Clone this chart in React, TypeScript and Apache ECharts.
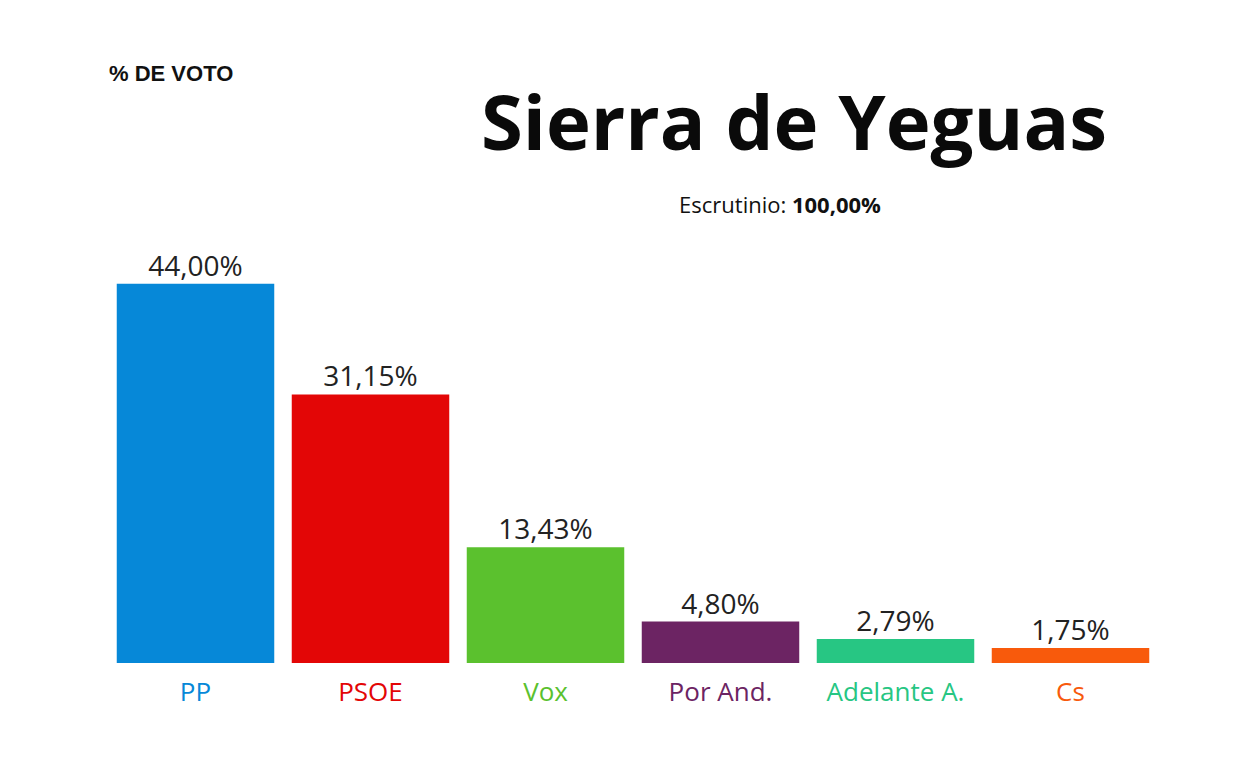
import React, { useEffect, useRef } from "react";
import * as echarts from "echarts";

const parties = ["PP", "PSOE", "Vox", "Por And.", "Adelante A.", "Cs"];
const votes = [44.0, 31.15, 13.43, 4.8, 2.79, 1.75];
const colors = ["#0688d8", "#e30606", "#5bc12e", "#6c2463", "#27c683", "#f85a0c"];
const titleText = "Sierra de Yeguas";
const scrutiny = "100,00%";

const FONT = "'Open Sans', 'Noto Sans', sans-serif";

export default function App() {
  const ref = useRef<HTMLDivElement>(null);
  useEffect(() => {
    const chart = echarts.init(ref.current!, null, { renderer: "svg" });
    chart.setOption({
      animation: false,
      backgroundColor: "#ffffff",
      grid: { left: 100, right: 82, top: 224, bottom: 99 },
      graphic: [
        {
          type: "text",
          left: 101,
          top: 54,
          style: { text: "% DE VOTO", font: "bold 22px 'Liberation Sans', Arial, sans-serif", fill: "#111" },
        },
        {
          type: "text",
          x: 786,
          y: 112,
          style: {
            text: titleText,
            font: `bold 76px ${FONT}`,
            fill: "#0a0a0a",
            align: "center",
            verticalAlign: "middle",
          },
        },
        {
          type: "text",
          x: 772,
          y: 196,
          style: {
            rich: {
              a: { font: `22px ${FONT}`, fill: "#111" },
              b: { font: `bold 22px ${FONT}`, fill: "#111" },
            },
            text: `{a|Escrutinio: }{b|${scrutiny}}`,
            align: "center",
            verticalAlign: "middle",
          },
        },
      ],
      xAxis: {
        type: "category",
        data: parties.map((p, i) => ({ value: p, textStyle: { color: colors[i] } })),
        axisLine: { show: false },
        axisTick: { show: false },
        axisLabel: {
          interval: 0,
          hideOverlap: false,
          margin: 15,
          fontSize: 26,
          fontFamily: FONT,
        },
      },
      yAxis: {
        type: "value",
        min: 0,
        max: 50,
        show: false,
        splitLine: { show: false },
      },
      series: [
        {
          type: "bar",
          barCategoryGap: "10%",
          data: votes.map((v, i) => ({ value: v, itemStyle: { color: colors[i] } })),
          label: {
            show: true,
            position: "top",
            distance: 5,
            fontSize: 28,
            fontFamily: FONT,
            color: "#222",
            formatter: (p: any) => p.value.toFixed(2).replace(".", ",") + "%",
          },
        },
      ],
    });
    return () => chart.dispose();
  }, []);
  return <div ref={ref} style={{ width: 1232, height: 754 }} />;
}
